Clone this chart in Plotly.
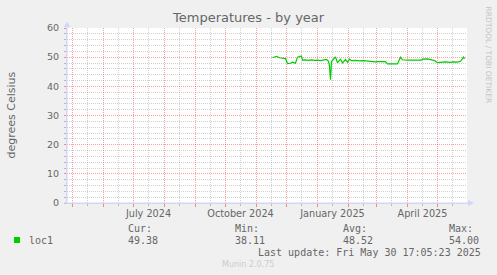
import plotly.graph_objects as go

# ---------------- data ----------------
dates = [
    "2024-11-17", "2024-11-21", "2024-11-24", "2024-11-27", "2024-11-30",
    "2024-12-02", "2024-12-05", "2024-12-07", "2024-12-10", "2024-12-12",
    "2024-12-16", "2024-12-17", "2024-12-20", "2024-12-23", "2024-12-26",
    "2024-12-29", "2025-01-01", "2025-01-04", "2025-01-07", "2025-01-10",
    "2025-01-12", "2025-01-13", "2025-01-14", "2025-01-15", "2025-01-19",
    "2025-01-21", "2025-01-24", "2025-01-26", "2025-01-29", "2025-01-31",
    "2025-02-02", "2025-02-04", "2025-02-08", "2025-02-12", "2025-02-16",
    "2025-02-20", "2025-02-24", "2025-02-28", "2025-03-04", "2025-03-08",
    "2025-03-10", "2025-03-12", "2025-03-17", "2025-03-22", "2025-03-25",
    "2025-03-27", "2025-04-01", "2025-04-06", "2025-04-11", "2025-04-15",
    "2025-04-16", "2025-04-21", "2025-04-25", "2025-04-28", "2025-05-01",
    "2025-05-05", "2025-05-09", "2025-05-13", "2025-05-17", "2025-05-21",
    "2025-05-24", "2025-05-27", "2025-05-28",
]
loc1 = [
    49.8, 50.3, 49.8, 49.6, 49.5,
    47.8, 47.9, 48.3, 47.9, 50.0,
    50.4, 49.0, 49.1, 48.9, 49.1,
    48.9, 49.0, 48.8, 49.0, 49.2,
    48.6, 47.0, 42.3, 48.5, 50.1,
    48.1, 49.3, 48.0, 49.2, 48.3,
    49.3, 48.8, 48.9, 48.7, 48.8,
    48.6, 48.6, 48.4, 48.5, 48.4,
    48.5, 47.7, 47.7, 47.7, 50.0,
    49.1, 49.0, 49.0, 49.0, 49.0,
    49.3, 49.4, 49.1, 48.8, 48.1,
    48.3, 48.4, 48.2, 48.4, 48.3,
    48.6, 50.0, 49.4,
]

x_start = "2024-04-25 12:00"
x_end = "2025-05-30 12:00"

month_grid = ["2024-%02d-01" % m for m in range(5, 13)] + ["2025-%02d-01" % m for m in range(1, 6)]
mid_grid = ["2024-%02d-16" % m for m in range(5, 13)] + ["2025-%02d-16" % m for m in range(1, 6)]
label_vals = ["2024-07-16", "2024-10-16", "2025-01-16", "2025-04-16"]
label_text = ["July 2024", "October 2024", "January 2025", "April 2025"]

legend_name = "loc1"
stats_labels = ["Cur:", "Min:", "Avg:", "Max:"]
stats_values = ["49.38", "38.11", "48.52", "54.00"]
last_update = "Last update: Fri May 30 17:05:23 2025"

# ---------------- layout helpers ----------------
FW, FH = 497, 275
L, T, R, B = 67, 28, 467, 203
PW, PH = R - L, B - T

def px(x):
    return (x - L) / PW

def py(y):
    return (B - y) / PH

FONT = "DejaVu Sans"
MONO = "DejaVu Sans Mono"
FC = "#666666"
AXIS = "#CFD6F8"
MGRID = "rgba(255,0,0,0.38)"
GRID = "rgba(128,128,128,0.36)"

fig = go.Figure()
fig.add_trace(go.Scatter(x=dates, y=loc1, mode="lines",
                         line=dict(color="#00CC00", width=1.2),
                         showlegend=False, hoverinfo="skip"))
fig.add_trace(go.Scatter(x=[x_start], y=[None], xaxis="x2", mode="lines",
                         showlegend=False, hoverinfo="skip"))

fig.update_layout(
    width=FW, height=FH,
    margin=dict(l=L, r=FW - R, t=T, b=FH - B, pad=0),
    paper_bgcolor="#F0F0F0", plot_bgcolor="#FFFFFF",
    font=dict(family=FONT, color=FC, size=10),
    showlegend=False,
    xaxis=dict(
        type="date", range=[x_start, x_end],
        tickmode="array", tickvals=month_grid, showticklabels=False,
        showgrid=False,
        ticks="outside", ticklen=3, tickcolor="rgba(255,0,0,0.45)", tickwidth=1,
        minor=dict(tickmode="array", tickvals=mid_grid, showgrid=False,
                   ticks="outside", ticklen=2, tickcolor="rgba(128,128,128,0.5)"),
        showline=True, linecolor=AXIS, linewidth=1,
        zeroline=False, fixedrange=True,
    ),
    xaxis2=dict(
        type="date", range=[x_start, x_end], overlaying="x", anchor="y", side="bottom",
        tickmode="array", tickvals=label_vals, ticktext=label_text,
        showgrid=False, ticks="", showline=False, zeroline=False,
        tickfont=dict(family=FONT, size=9.7, color=FC), ticklabelstandoff=3,
        fixedrange=True,
    ),
    yaxis=dict(
        range=[0, 60], tickmode="linear", tick0=0, dtick=10,
        showgrid=True, gridcolor=MGRID, griddash="1px,1px", gridwidth=1,
        ticks="outside", ticklen=2, tickcolor="rgba(255,0,0,0.45)",
        minor=dict(dtick=2, showgrid=True, gridcolor=GRID, griddash="1px,1px",
                   ticks="outside", ticklen=2, tickcolor="rgba(128,128,128,0.5)"),
        showline=True, linecolor=AXIS, linewidth=1, zeroline=False,
        tickfont=dict(family=FONT, size=9.5, color=FC), ticklabelstandoff=3,
        fixedrange=True,
    ),
)

shapes = []
# vertical grid lines (minor mid-month grey, major monthly red), placed by the date axis
for d in mid_grid:
    shapes.append(dict(type="line", xref="x", yref="paper", x0=d, x1=d, y0=0, y1=1,
                       layer="below", line=dict(color=GRID, width=1, dash="1px,1px")))
for d in month_grid:
    shapes.append(dict(type="line", xref="x", yref="paper", x0=d, x1=d, y0=0, y1=1,
                       layer="below", line=dict(color=MGRID, width=1, dash="1px,1px")))
shapes.append(dict(type="line", xref="paper", yref="paper",
                   x0=px(67), x1=px(67), y0=py(203), y1=py(24),
                   line=dict(color=AXIS, width=1)))
shapes.append(dict(type="path", xref="paper", yref="paper",
                   path="M %f,%f L %f,%f L %f,%f Z" % (px(64), py(27), px(70), py(27), px(67), py(21.5)),
                   fillcolor=AXIS, line=dict(width=0)))
shapes.append(dict(type="line", xref="paper", yref="paper",
                   x0=px(64), x1=px(471), y0=py(203), y1=py(203),
                   line=dict(color=AXIS, width=1)))
shapes.append(dict(type="path", xref="paper", yref="paper",
                   path="M %f,%f L %f,%f L %f,%f Z" % (px(468), py(200), px(468), py(206), px(474), py(203)),
                   fillcolor=AXIS, line=dict(width=0)))
shapes.append(dict(type="rect", xref="paper", yref="paper",
                   x0=px(14), x1=px(20), y0=py(243), y1=py(237),
                   fillcolor="#00CC00", line=dict(width=0)))
fig.update_layout(shapes=shapes)

ann = []
def text(x, y, s, size=10, family=MONO, color=FC, xanchor="left", angle=0):
    ann.append(dict(xref="paper", yref="paper", x=px(x), y=py(y), text=s,
                    showarrow=False, xanchor=xanchor, yanchor="middle",
                    textangle=angle, font=dict(family=family, size=size, color=color)))

text(248, 18, "Temperatures - by year", size=13, family=FONT, xanchor="center")
text(10.5, 115, "degrees Celsius", size=11, family=FONT, xanchor="center", angle=-90)
text(487.5, 55, "RRDTOOL / TOBI OETIKER", size=7.5, family=FONT, color="#C4C4C4",
     xanchor="center", angle=90)
text(26.5, 240, legend_name)
col_x = [126, 233, 340.5, 447]
for cx, lab, val in zip(col_x, stats_labels, stats_values):
    text(cx, 228.5, lab)
    text(cx, 240.5, val)
text(482.5, 252, last_update, xanchor="right")
text(248, 264, "Munin 2.0.75", size=8, family=FONT, color="#CCCCCC", xanchor="center")
fig.update_layout(annotations=ann)

fig.write_html("out.html")
